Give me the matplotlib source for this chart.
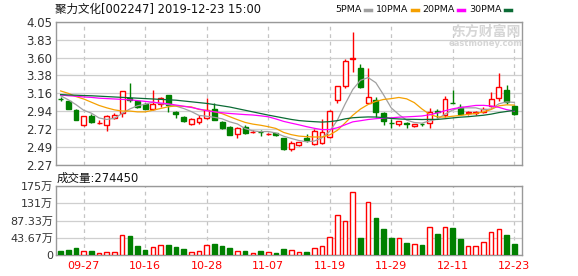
import matplotlib
matplotlib.use("Agg")
import matplotlib.pyplot as plt
from matplotlib.lines import Line2D

plt.rcParams['font.family'] = ['DejaVu Sans', 'Noto Sans CJK SC']

# daily candles, 2019-09-24 .. 2019-12-23 (60 trading days)
opens = [3.095, 3.065, 2.958, 2.77, 2.877, 2.79, 2.768, 2.85, 2.91, 3.10,
         3.063, 3.027, 2.966, 3.03, 3.136, 2.93, 2.87, 2.78, 2.81, 2.857,
         2.97, 2.805, 2.74, 2.655, 2.748, 2.675, 2.685, 2.652, 2.667, 2.604,
         2.464, 2.513, 2.604, 2.53, 2.54, 2.62, 3.082, 3.255, 3.585, 3.473,
         3.04, 3.082, 2.913, 2.795, 2.777, 2.795, 2.75, 2.78, 2.795, 2.94,
         2.887, 3.045, 2.99, 2.918, 2.918, 2.93, 2.997, 3.103, 3.20, 3.002]
highs = [3.11, 3.07, 2.97, 2.88, 2.90, 2.825, 2.897, 2.91, 3.185, 3.293,
         3.08, 3.04, 3.204, 3.12, 3.14, 2.94, 2.88, 2.857, 2.89, 3.10,
         3.04, 2.815, 2.755, 2.74, 2.77, 2.70, 2.70, 2.67, 2.67, 2.61,
         2.57, 2.556, 2.65, 2.715, 2.847, 2.95, 3.25, 3.59, 3.918, 3.53,
         3.469, 3.11, 2.93, 2.84, 2.82, 2.80, 2.785, 2.79, 2.977, 2.96,
         3.123, 3.20, 3.03, 2.94, 2.945, 2.99, 3.172, 3.408, 3.266, 3.01]
lows = [3.07, 2.965, 2.825, 2.76, 2.79, 2.785, 2.687, 2.84, 2.87, 3.05,
        2.98, 2.962, 2.958, 2.99, 2.93, 2.85, 2.81, 2.77, 2.776, 2.837,
        2.825, 2.72, 2.64, 2.606, 2.66, 2.665, 2.63, 2.645, 2.635, 2.46,
        2.44, 2.51, 2.55, 2.52, 2.53, 2.61, 3.036, 3.23, 3.424, 3.23,
        3.035, 2.867, 2.77, 2.735, 2.756, 2.726, 2.74, 2.76, 2.726, 2.855,
        2.867, 3.035, 2.895, 2.887, 2.89, 2.92, 2.99, 3.07, 3.03, 2.895]
closes = [3.09, 2.97, 2.833, 2.877, 2.80, 2.795, 2.88, 2.897, 3.184, 3.08,
          2.99, 2.97, 3.027, 3.10, 3.01, 2.90, 2.82, 2.84, 2.857, 2.958,
          2.83, 2.728, 2.647, 2.728, 2.668, 2.685, 2.675, 2.66, 2.64, 2.472,
          2.546, 2.554, 2.575, 2.694, 2.674, 2.946, 3.247, 3.568, 3.595, 3.238,
          3.12, 2.925, 2.818, 2.79, 2.818, 2.775, 2.775, 2.775, 2.93, 2.93,
          3.087, 3.04, 2.907, 2.928, 2.93, 2.97, 3.09, 3.233, 3.05, 2.90]
# volume, in 万 (10k shares)
volume = [10, 12.6, 17.6, 11, 9, 4.6, 8.5, 8.5, 51, 47,
          22, 12, 21, 24.5, 24.5, 19.5, 15, 8.5, 11, 26,
          27, 22, 17.6, 11, 9, 6, 9, 7, 4.5, 14,
          12, 7, 7, 17.6, 22, 45, 100, 87, 160, 43,
          134, 93, 65.5, 43, 43, 30, 27, 25, 72, 53,
          72, 68, 41, 24, 24, 32, 57, 65.5, 50, 27.445]

ma5 = [3.13, 3.08, 3.02, 2.95, 2.914, 2.854, 2.836, 2.85, 2.91, 2.966,
       3.006, 3.024, 3.05, 3.034, 3.02, 3.002, 2.972, 2.934, 2.886, 2.876,
       2.862, 2.844, 2.806, 2.78, 2.722, 2.694, 2.684, 2.686, 2.668, 2.628,
       2.60, 2.574, 2.558, 2.568, 2.608, 2.688, 2.828, 3.026, 3.208, 3.322,
       3.356, 3.292, 3.142, 2.98, 2.896, 2.828, 2.798, 2.79, 2.818, 2.84,
       2.902, 2.954, 2.98, 2.98, 2.98, 2.956, 2.966, 3.03, 3.054, 3.048]
ma10 = [3.19, 3.16, 3.12, 3.09, 3.05, 3.01, 2.98, 2.955, 2.94, 2.94,
        2.93, 2.93, 2.95, 2.972, 2.993, 3.004, 2.998, 2.992, 2.96, 2.948,
        2.932, 2.908, 2.87, 2.833, 2.799, 2.778, 2.764, 2.746, 2.724, 2.675,
        2.647, 2.629, 2.622, 2.618, 2.618, 2.644, 2.701, 2.792, 2.888, 2.965,
        3.022, 3.06, 3.084, 3.094, 3.109, 3.092, 3.045, 2.966, 2.899, 2.868,
        2.865, 2.876, 2.885, 2.899, 2.91, 2.929, 2.96, 3.005, 3.017, 3.014]
ma20 = [3.14, 3.13, 3.125, 3.115, 3.11, 3.10, 3.095, 3.09, 3.085, 3.08,
        3.07, 3.06, 3.05, 3.04, 3.03, 3.015, 3.0, 2.985, 2.965, 2.944,
        2.931, 2.919, 2.91, 2.903, 2.896, 2.891, 2.881, 2.869, 2.842, 2.812,
        2.79, 2.769, 2.746, 2.726, 2.709, 2.711, 2.733, 2.769, 2.806, 2.82,
        2.835, 2.845, 2.853, 2.856, 2.864, 2.868, 2.873, 2.879, 2.894, 2.917,
        2.944, 2.968, 2.985, 2.997, 3.01, 3.011, 3.003, 2.986, 2.958, 2.941]
ma30 = [3.145, 3.14, 3.137, 3.133, 3.13, 3.125, 3.12, 3.115, 3.11, 3.105,
        3.10, 3.095, 3.09, 3.085, 3.08, 3.075, 3.065, 3.055, 3.045, 3.035,
        3.02, 3.005, 2.99, 2.97, 2.95, 2.93, 2.91, 2.89, 2.872, 2.854,
        2.836, 2.822, 2.814, 2.808, 2.803, 2.809, 2.821, 2.843, 2.857, 2.863,
        2.867, 2.866, 2.859, 2.848, 2.842, 2.838, 2.837, 2.835, 2.837, 2.836,
        2.845, 2.855, 2.864, 2.870, 2.879, 2.888, 2.902, 2.921, 2.935, 2.949]

date_ticks = [3, 11, 19, 27, 35, 43, 51, 59]
date_labels = ['09-27', '10-16', '10-28', '11-07', '11-19', '11-29', '12-11', '12-23']
price_ticks = [2.27, 2.4925, 2.715, 2.9375, 3.16, 3.3825, 3.605, 3.8275, 4.05]
price_labels = ['2.27', '2.49', '2.72', '2.94', '3.16', '3.38', '3.60', '3.83', '4.05']
vol_ticks = [0, 43.667, 87.333, 131, 174.667]
vol_labels = ['0', '43.67万', '87.33万', '131万', '175万']

RED = '#ff0000'
GREEN = '#008000'
W, H = 578, 276

fig = plt.figure(figsize=(W / 100, H / 100), dpi=100)
left, width = 56 / W, 466.3 / W
ax = fig.add_axes([left, 1 - 165 / H, width, (165 - 21.7) / H])
axv = fig.add_axes([left, 1 - 255 / H, width, (255 - 186) / H])

xs = list(range(len(closes)))
for a in (ax, axv):
    a.set_xlim(-0.6, 60.05)
    for s in a.spines.values():
        s.set_color('#999999')
        s.set_linewidth(1)
    a.set_xticks(date_ticks)
    a.grid(axis='x', color='#c4c4c4', linestyle=(0, (3, 3)), linewidth=0.9)
    a.grid(axis='y', color='#cfcfcf', linewidth=0.9)
    a.set_axisbelow(True)
    a.tick_params(length=0, labelsize=8, colors='#333333')

# candles
for i in xs:
    o, h, l, c = opens[i], highs[i], lows[i], closes[i]
    up = c >= o
    col = RED if up else GREEN
    lo_b, hi_b = min(o, c), max(o, c)
    ax.vlines(i, l, lo_b, color=col, linewidth=1, zorder=2)
    ax.vlines(i, hi_b, h, color=col, linewidth=1, zorder=2)
    ax.bar(i, max(hi_b - lo_b, 0.002), bottom=lo_b, width=0.64,
           facecolor='white' if up else GREEN, edgecolor=col, linewidth=1, zorder=3)
    axv.bar(i, volume[i], width=0.6, facecolor='white' if up else GREEN,
            edgecolor=col, linewidth=1, zorder=3)

ax.plot(xs, ma5, color='#a0a0a0', linewidth=0.9, zorder=4)
ax.plot(xs, ma10, color='#f5a000', linewidth=0.9, zorder=4)
ax.plot(xs, ma20, color='#ff00ff', linewidth=0.9, zorder=4)
ax.plot(xs, ma30, color='#0b6b35', linewidth=0.9, zorder=4)

ax.set_ylim(2.27, 4.05)
ax.set_yticks(price_ticks)
ax.set_yticklabels(price_labels)
ax.tick_params(axis='y', pad=2.5, labelsize=8.5)
ax.set_xticklabels([])

axv.set_ylim(0, 174.667)
axv.set_yticks(vol_ticks)
axv.set_yticklabels(vol_labels)
axv.tick_params(axis='y', pad=2)
axv.set_xticklabels(date_labels)
axv.tick_params(axis='x', colors=RED, pad=4.5, labelsize=8)

# header texts
fig.text(55 / W, 1 - 9 / H, '聚力文化[002247] 2019-12-23 15:00', fontsize=8.3,
         color='#111111', va='center', ha='left')
legend = [('5PMA', '#a0a0a0', 362, 365), ('10PMA', '#f5a000', 408.7, 412),
          ('20PMA', '#ff00ff', 454.7, 458), ('30PMA', '#0b6b35', 501.3, 505)]
for name, col, tx, lx in legend:
    fig.text(tx / W, 1 - 9 / H, name, fontsize=6.8, color='#111111',
             va='center', ha='right')
    fig.add_artist(Line2D([lx / W, (lx + 6) / W], [1 - 9.5 / H, 1 - 9.5 / H],
                          transform=fig.transFigure, color=col, linewidth=2.5))

fig.text(57 / W, 1 - 178 / H, '成交量:274450', fontsize=8.3, color='#111111',
         va='center', ha='left')

# watermark
fig.text(486 / W, 1 - 31.5 / H, '东方财富网', fontsize=10, fontweight='bold',
         color='#d6d6d6', va='center', ha='center', zorder=1)
fig.text(486 / W, 1 - 43 / H, 'eastmoney.com', fontsize=6, fontweight='bold',
         color='#d6d6d6', va='center', ha='center', zorder=1)

fig.savefig('out.png', dpi=100)
